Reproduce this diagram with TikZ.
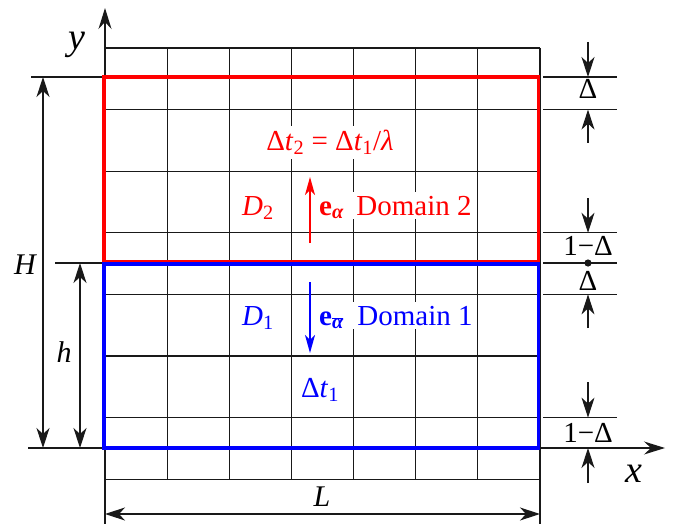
\documentclass[tikz,border=0pt]{standalone}
\usepackage{fontspec}
\setmainfont{Liberation Serif}
\usetikzlibrary{arrows.meta}
\definecolor{gridc}{RGB}{25,25,25}
\begin{document}
\begin{tikzpicture}[x=1pt,y=-1pt,
  gridline/.style={line width=1.2pt, draw=gridc},
  dimline/.style={line width=1.2pt, draw=gridc,
    {Stealth[length=20pt,width=13pt,inset=6pt]}-{Stealth[length=20pt,width=13pt,inset=6pt]}},
  ptrline/.style={line width=1.2pt, draw=gridc, -{Stealth[length=20pt,width=13pt,inset=6pt]}},
  axisline/.style={line width=1.2pt, draw=gridc, -{Stealth[length=21pt,width=13pt,inset=7pt]}},
  vecline/.style={line width=1.4pt, -{Stealth[length=18pt,width=10pt,inset=5pt]}},
  lbl/.style={anchor=base, font=\fontsize{29}{33}\selectfont, inner sep=0pt},
  biglbl/.style={anchor=base, font=\fontsize{38}{42}\selectfont\itshape, inner sep=0pt},
  inlbl/.style={lbl, fill=white, inner sep=4pt},
  domred/.style={draw=red, line width=3.2pt},
  domblue/.style={draw=blue, line width=3.2pt}
]
\useasboundingbox (0,0) rectangle (688,524);

% grid
\foreach \i in {0,...,7} {
  \draw[gridline] ({105+62.143*\i},48) -- ({105+62.143*\i},479.2);
}
\foreach \j in {0,...,7} {
  \draw[gridline] (105,{48+61.6*\j}) -- (540,{48+61.6*\j});
}

% axes and extension lines
\coordinate (O) at (105,448);
\coordinate (ytop) at (105,8);
\coordinate (ybot) at (105,524);
\coordinate (xend) at (665,448);
\coordinate (rbot) at (540,524);
\coordinate (rtop) at (540,479);
\draw[gridline] (ybot) -- (O);
\draw[axisline] (O) -- (ytop);
\draw[axisline] (O) -- (xend);
\draw[gridline] (rtop) -- (rbot);

% left extension lines
\draw[gridline] (31,77) -- (105,77);
\draw[gridline] (55,263) -- (105,263);
\draw[gridline] (28,448) -- (105,448);

% right extension lines
\foreach \yy in {77,109.6,232.8,263,294.4,417.6} {
  \draw[gridline] (543,\yy) -- (617,\yy);
}

% labels inside grid
\node[inlbl, text=red] (dt2) at (330,150) {Δ\textit{t}\textsubscript{2} = Δ\textit{t}\textsubscript{1}/\textit{λ}};
\node[inlbl, text=red] (D2) at (258,215) {\textit{D}\textsubscript{2}};
\node[inlbl, text=red, anchor=base west, inner sep=3pt] (ea) at (316,215) {\textbf{e}\textsubscript{\bfseries\itshape α}};
\node[inlbl, text=red] (dom2) at (414,215) {Domain 2};
\node[inlbl, text=blue] (D1) at (258,325) {\textit{D}\textsubscript{1}};
\node[inlbl, text=blue, anchor=base west, inner sep=3pt] (eb) at (316,325) {\textbf{e}\textsubscript{$\overline{\mbox{\bfseries\itshape α}}$}};
\node[inlbl, text=blue] (dom1) at (415,325) {Domain 1};
\node[inlbl, text=blue] (dt1) at (320,397) {Δ\textit{t}\textsubscript{1}};

% domains
\draw[domred] (104,77) rectangle (538.5,262);
\draw[domblue] (104,264) rectangle (538.5,448);

% velocity vectors
\coordinate (ea0) at (310,243);
\coordinate (ea1) at (310,177);
\coordinate (eb0) at (310,282);
\coordinate (eb1) at (310,353);
\draw[vecline, red] (ea0) -- (ea1);
\draw[vecline, blue] (eb0) -- (eb1);

% dimensions
\draw[dimline] (43,77) -- (43,448);
\draw[dimline] (80,263) -- (80,448);
\draw[dimline] (105,514) -- (540,514);

\node[lbl, font=\fontsize{30}{34}\selectfont\itshape] (H) at (25,274) {H};
\node[lbl, font=\fontsize{30}{34}\selectfont\itshape] (h) at (64,362) {h};
\node[lbl, font=\fontsize{30}{34}\selectfont\itshape] (L) at (322,506) {L};
\node[biglbl] (ylab) at (77,50) {y};
\node[biglbl] (xlab) at (634,482) {x};

% right side delta marks
\draw[ptrline] (588,42) -- (588,77);
\draw[ptrline] (588,143) -- (588,109.6);
\draw[ptrline] (588,198) -- (588,232.8);
\draw[ptrline] (588,328) -- (588,294.4);
\draw[ptrline] (588,382) -- (588,417.6);
\draw[ptrline] (588,483) -- (588,448);
\fill[gridc] (588,263) circle (3.6pt);

\node[lbl] (d1) at (588,99) {Δ};
\node[lbl] (d2) at (588,255) {1−Δ};
\node[lbl] (d3) at (588,290) {Δ};
\node[lbl] (d4) at (588,442) {1−Δ};
\end{tikzpicture}
\end{document}
